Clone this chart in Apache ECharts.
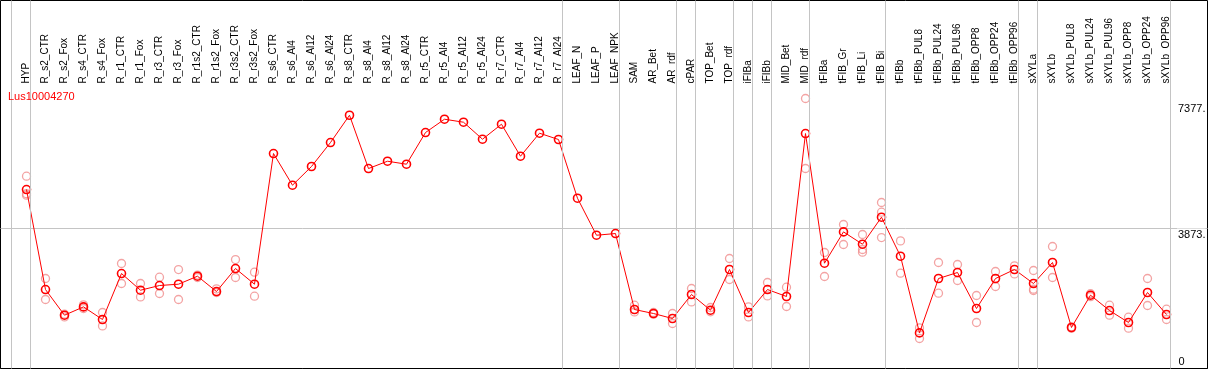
<!DOCTYPE html>
<html>
<head>
<meta charset="utf-8">
<script src="https://cdn.jsdelivr.net/npm/echarts@6/dist/echarts.min.js"></script>
<style>
html,body{margin:0;padding:0;background:#fff;}
#chart{width:1209px;height:370px;}
</style>
</head>
<body>
<div id="chart"></div>
<script>
const categories = ["HYP","R_s2_CTR","R_s2_Fox","R_s4_CTR","R_s4_Fox","R_r1_CTR","R_r1_Fox","R_r3_CTR","R_r3_Fox","R_r1s2_CTR","R_r1s2_Fox","R_r3s2_CTR","R_r3s2_Fox","R_s6_CTR","R_s6_Al4","R_s6_Al12","R_s6_Al24","R_s8_CTR","R_s8_Al4","R_s8_Al12","R_s8_Al24","R_r5_CTR","R_r5_Al4","R_r5_Al12","R_r5_Al24","R_r7_CTR","R_r7_Al4","R_r7_Al12","R_r7_Al24","LEAF_N","LEAF_P","LEAF_NPK","SAM","AR_Bet","AR_rdf","cPAR","TOP_Bet","TOP_rdf","iFIBa","iFIBb","MID_Bet","MID_rdf","tFIBa","tFIB_Gr","tFIB_Li","tFIB_Bi","tFIBb","tFIBb_PUL8","tFIBb_PUL24","tFIBb_PUL96","tFIBb_OPP8","tFIBb_OPP24","tFIBb_OPP96","sXYLa","sXYLb","sXYLb_PUL8","sXYLb_PUL24","sXYLb_PUL96","sXYLb_OPP8","sXYLb_OPP24","sXYLb_OPP96"];

const seriesName = "Lus10004270";

const meanValues = [4958,2177,1463,1694,1343,2622,2158,2288,2325,2547,2121,2761,2325,5959,5078,5598,6265,7024,5542,5745,5662,6543,6913,6830,6357,6774,5884,6524,6349,4716,3687,3734,1621,1510,1371,2038,1602,2734,1538,2177,1983,6515,2909,3780,3437,4188,3103,971,2483,2650,1649,2483,2734,2344,2928,1121,2019,1593,1260,2094,1482];

const replicateA = [5328,2483,1490,1749,1538,2900,2344,2519,2733,2580,2194,3011,2658,null,null,null,null,null,null,null,null,null,null,null,null,null,null,null,null,null,null,null,1741,1540,1510,2205,1677,3040,1694,2372,2241,7489,3206,3985,3707,4597,3529,1110,2928,2873,2011,2678,2834,2706,3373,1140,2060,1741,1407,2483,1630];
const replicateB = [4841,1899,1415,1649,1165,2344,1972,2066,1899,2510,2094,2511,1991,null,null,null,null,null,null,null,null,null,null,null,null,null,null,null,null,null,null,null,1555,1490,1232,1833,1557,2456,1415,2000,1705,5542,2539,3429,3290,3623,2631,815,2075,2428,1260,2261,2611,2150,2511,1100,1980,1463,1101,1732,1343];
const replicateC = [4800,null,null,null,null,null,null,null,null,null,null,null,null,null,null,null,null,null,null,null,null,null,null,null,null,null,null,null,null,null,null,null,null,null,null,null,null,null,null,null,null,null,null,null,3215,4327,null,null,null,null,null,null,null,2186,null,null,null,null,null,null,null];

const tickValues = [7377, 3873, 0];
const tickLabels = ["7377.", "3873.", "0"];

// separators are drawn just right of these category indices
const separatorAfter = [-1,0,28,31,34,35,37,38,39,41,45,52,53,60];

// layout
const X_MIN = -1.3684, X_MAX = 62.158, SEP_OFFSET = 0.21;
const FONT = "Liberation Sans";
const GRAY = "#c4c4c4";
const CLEAR = "rgba(0,0,0,0)";

const meanData = meanValues.map((v, i) => [i, v]);
const repData = [];
[replicateA, replicateB, replicateC].forEach(arr => {
  arr.forEach((v, i) => { if (v !== null) repData.push([i, v]); });
});

const chart = echarts.init(document.getElementById('chart'), null, {renderer: 'canvas'});
chart.setOption({
  animation: false,
  backgroundColor: '#fff',
  title: {
    text: seriesName, left: 8, top: 91, padding: 0,
    textStyle: {color: '#ff0000', fontSize: 11, fontWeight: 'normal', fontFamily: FONT}
  },
  grid: [
    {left: 0.5, right: 1.5, top: 85.5, bottom: 1.5, show: true, borderColor: '#000', borderWidth: 1, backgroundColor: 'transparent'},
    {left: 0.5, right: 1.5, top: 0.5, bottom: 1.5, show: true, borderColor: '#000', borderWidth: 1, backgroundColor: '#fff'},
    {left: 17, width: 1159, top: 85.5, bottom: 1.5}
  ],
  xAxis: [
    {gridIndex: 0, type: 'value', min: X_MIN, max: X_MAX, show: false},
    {gridIndex: 1, type: 'value', min: X_MIN, max: X_MAX, show: false},
    {gridIndex: 2, type: 'category', data: categories, position: 'top', boundaryGap: true,
     axisLine: {show: false}, axisTick: {show: false}, splitLine: {show: false},
     axisLabel: {rotate: 90, margin: 2, interval: 0, fontSize: 10, color: '#000', fontFamily: FONT}}
  ],
  yAxis: [
    {gridIndex: 0, type: 'value', min: -19.5, max: 7851, show: false},
    {gridIndex: 1, type: 'value', min: 0, max: 1, show: false},
    {gridIndex: 2, type: 'value', min: 0, max: 1, show: false}
  ],
  series: [
    {
      type: 'line', xAxisIndex: 1, yAxisIndex: 1, data: [[X_MIN, 0]],
      symbol: 'none', lineStyle: {opacity: 0}, silent: true, z: 1,
      markLine: {
        silent: true, symbol: ['none', 'none'], label: {show: false},
        lineStyle: {color: GRAY, width: 1, type: 'solid'},
        data: separatorAfter.map(k => ({xAxis: k + SEP_OFFSET}))
      }
    },
    {
      type: 'scatter', xAxisIndex: 0, yAxisIndex: 0, data: repData,
      symbol: 'circle', symbolSize: 8, z: 3,
      itemStyle: {color: 'rgba(255,255,255,0)', borderColor: '#f08c8c', borderWidth: 1.3}
    },
    {
      name: seriesName,
      type: 'line', xAxisIndex: 0, yAxisIndex: 0, data: meanData,
      symbol: 'circle', symbolSize: 8, showSymbol: true, z: 4,
      lineStyle: {color: '#ff0000', width: 1},
      itemStyle: {color: 'rgba(255,255,255,0)', borderColor: '#ff0000', borderWidth: 1.6},
      markLine: {
        silent: true, symbol: ['none', 'none'], z: 2,
        lineStyle: {color: GRAY, width: 1, type: 'solid'},
        label: {show: true, position: 'insideEndBottom', distance: [2, 0], color: '#000', fontSize: 11, fontFamily: FONT, backgroundColor: '#fff', padding: [1, 0, 0, 1]},
        data: tickValues.map((v, i) => ({
          yAxis: v,
          lineStyle: i === 1 ? {color: GRAY, width: 1, type: 'solid'} : {color: CLEAR, width: 1, type: 'solid'},
          label: {
            show: true, formatter: tickLabels[i], color: '#000',
            position: v === 0 ? 'insideEndTop' : 'insideEndBottom',
            backgroundColor: v === 0 ? CLEAR : '#fff',
            padding: v === 0 ? [0, 21, 0, 0] : [1, 0, 0, 1]
          }
        }))
      }
    }
  ]
});
</script>
</body>
</html>
